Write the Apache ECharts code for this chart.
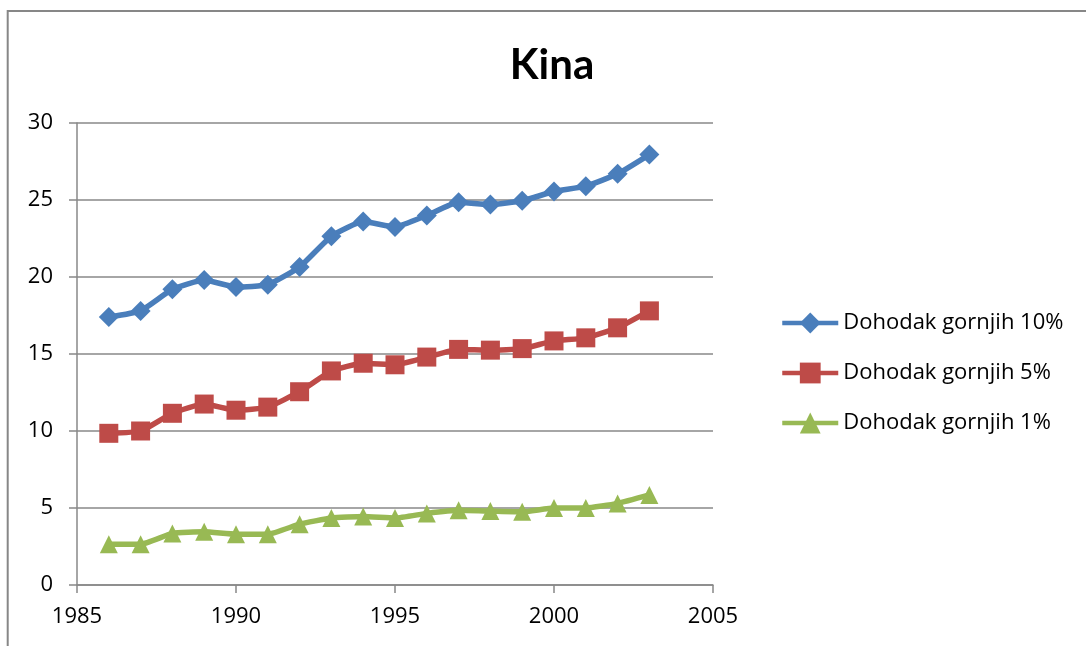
<!DOCTYPE html>
<html>
<head>
<meta charset="utf-8">
<script src="https://cdn.jsdelivr.net/npm/echarts@6/dist/echarts.min.js"></script>
<style>
html,body{margin:0;padding:0;background:#fff;}
#chart{width:1086px;height:646px;}
</style>
</head>
<body>
<div id="chart"></div>
<script>
const title = 'Kina';
const years = [1986,1987,1988,1989,1990,1991,1992,1993,1994,1995,1996,1997,1998,1999,2000,2001,2002,2003];
const top10 = [17.4,17.8,19.2,19.8,19.35,19.5,20.65,22.65,23.6,23.25,24.0,24.85,24.7,24.95,25.55,25.9,26.7,27.95];
const top5 = [9.85,10.0,11.15,11.75,11.35,11.55,12.55,13.9,14.4,14.3,14.8,15.3,15.25,15.35,15.85,16.05,16.7,17.8];
const top1 = [2.65,2.65,3.35,3.45,3.3,3.3,3.95,4.35,4.45,4.35,4.65,4.85,4.8,4.75,5.0,5.0,5.3,5.85];
const seriesNames = ['Dohodak gornjih 10%','Dohodak gornjih 5%','Dohodak gornjih 1%'];

const pairs = arr => years.map((y,i)=>[y,arr[i]]);
const chart = echarts.init(document.getElementById('chart'), null, {renderer:'canvas'});
const baseFont = '"Open Sans", sans-serif';
const gridColor = '#888888';
function mkSeries(name, data, color, symbol, size){
  return {
    name, type:'line', data: pairs(data), smooth:0.15,
    symbol, symbolSize:size, showSymbol:true,
    lineStyle:{color:color, width:5.5},
    itemStyle:{color:color},
    emphasis:{disabled:true},
    z: 3
  };
}
chart.setOption({
  animation:false,
  backgroundColor:'#ffffff',
  textStyle:{fontFamily:baseFont},
  title:{
    text:title, left:547, top:39, textAlign:'center',
    textStyle:{fontFamily:'Lato, sans-serif', fontWeight:'bold', fontSize:42, color:'#000'}
  },
  graphic:[{
    type:'rect', silent:true, z:-1,
    shape:{x:7.7, y:11, width:1300, height:900},
    style:{fill:null, stroke:'#878787', lineWidth:2}
  }],
  legend:{
    orient:'vertical', left:780, top:310, padding:0,
    itemWidth:56, itemHeight:26, itemGap:24,
    lineStyle:{width:4.5},
    textStyle:{fontFamily:baseFont, fontSize:22, color:'#000', lineHeight:26},
    data:seriesNames
  },
  grid:{left:77, top:123, width:636, height:462, containLabel:false},
  xAxis:{
    type:'value', min:1985, max:2005, interval:5,
    axisLine:{show:true, lineStyle:{color:gridColor, width:1.5}},
    axisTick:{show:true, length:8, lineStyle:{color:gridColor, width:1.5}},
    axisLabel:{fontFamily:baseFont, fontSize:22, color:'#000', margin:21, formatter: v => String(v)},
    splitLine:{show:false}
  },
  yAxis:{
    type:'value', min:0, max:30, interval:5,
    axisLine:{show:true, lineStyle:{color:gridColor, width:1.5}},
    axisTick:{show:true, length:8, inside:false, lineStyle:{color:gridColor, width:1.5}},
    axisLabel:{fontFamily:baseFont, fontSize:22, color:'#000', margin:24},
    splitLine:{show:true, lineStyle:{color:gridColor, width:1.5}}
  },
  series:[
    mkSeries(seriesNames[0], top10, '#4a7ebb', 'diamond', 20),
    mkSeries(seriesNames[1], top5, '#be4b48', 'rect', 19),
    mkSeries(seriesNames[2], top1, '#98b954', 'triangle', 18)
  ]
});
</script>
</body>
</html>
